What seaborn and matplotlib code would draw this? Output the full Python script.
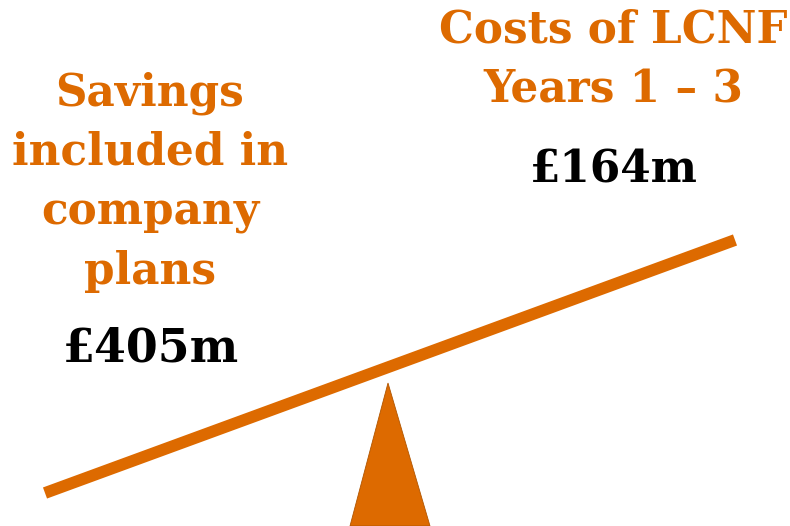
import matplotlib
matplotlib.use("Agg")
import matplotlib.pyplot as plt
import seaborn as sns
import pandas as pd

sns.set_theme(style="white")
plt.rcParams["font.family"] = ["DejaVu Serif", "DejaVu Sans"]

ORANGE = "#DD6A00"

# Two sides of the balance
side_labels = ["Savings\nincluded in\ncompany\nplans", "Costs of LCNF\nYears 1 \u2013 3"]
side_values = ["\u00a3405m", "\u00a3164m"]

# Beam end points and fulcrum outline (canvas units)
beam_x = [45, 735]
beam_y = [493, 240]
fulcrum_x = [350, 388, 430]
fulcrum_y = [526, 383, 526]

fig = plt.figure(figsize=(7.9, 5.26), dpi=100)
ax = fig.add_axes([0, 0, 1, 1])

beam = pd.DataFrame({"x": beam_x, "y": beam_y})
sns.lineplot(data=beam, x="x", y="y", ax=ax, color=ORANGE, linewidth=8.5,
             solid_capstyle="butt", sort=False)
ax.fill(fulcrum_x, fulcrum_y, color=ORANGE, edgecolor="#B05500", linewidth=0.6)
ax.set_xlim(0, 790)
ax.set_ylim(526, 0)
ax.axis("off")

title_kw = dict(color=ORANGE, fontsize=31.5, fontweight="bold", ha="center",
                va="center", linespacing=1.48)
value_kw = dict(color="black", fontweight="bold", ha="center", va="center")

ax.text(150, 182, side_labels[0], **title_kw)
ax.text(151, 349, side_values[0], fontsize=33, **value_kw)
ax.text(613, 60, side_labels[1], **title_kw)
ax.text(614, 170, side_values[1], fontsize=31.5, **value_kw)

fig.savefig("out.png", dpi=100, facecolor="white")
